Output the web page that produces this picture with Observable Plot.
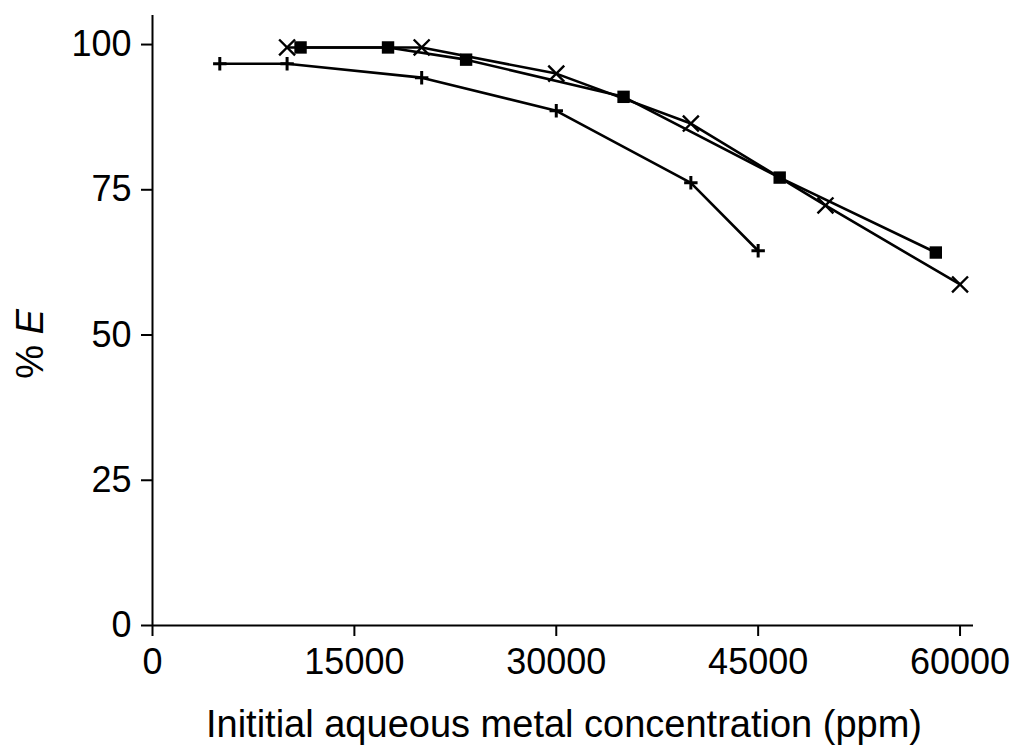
<!DOCTYPE html>
<html>
<head>
<meta charset="utf-8">
<script src="https://cdn.jsdelivr.net/npm/d3@7"></script>
<script src="https://cdn.jsdelivr.net/npm/@observablehq/plot@0.6"></script>
<style>
  html, body { margin: 0; padding: 0; background: #fff; }
</style>
</head>
<body>
<div id="chart"></div>
<script>
// Series: plus markers
const plusX = [5000, 10000, 20000, 30000, 40000, 45000];
const plusY = [96.7, 96.7, 94.3, 88.6, 76.2, 64.5];
// Series: filled squares
const squareX = [11000, 17500, 23300, 35000, 46600, 58200];
const squareY = [99.5, 99.5, 97.4, 91.0, 77.1, 64.2];
// Series: times markers
const timesX = [10000, 20000, 30000, 40000, 50000, 60000];
const timesY = [99.5, 99.5, 95.0, 86.4, 72.3, 58.7];

const xTicks = [0, 15000, 30000, 45000, 60000];
const yTicks = [0, 25, 50, 75, 100];
const xLabel = "Inititial aqueous metal concentration (ppm)";

const toRows = (xs, ys) => xs.map((x, i) => ({x, y: ys[i]}));
const plusData = toRows(plusX, plusY);
const squareData = toRows(squareX, squareY);
const timesData = toRows(timesX, timesY);

const chart = Plot.plot({
  width: 1020,
  height: 749,
  marginLeft: 152,
  marginRight: 47,
  marginTop: 15,
  marginBottom: 124,
  style: {fontFamily: "'Liberation Sans', Arial, sans-serif", fontSize: "36px", color: "#000", background: "#fff"},
  x: {domain: [0, 61000]},
  y: {domain: [0, 105]},
  marks: [
    Plot.axisX({ticks: xTicks, tickFormat: d => String(d), tickSize: 11, tickPadding: 12, strokeWidth: 2, fontSize: 36, label: null}),
    Plot.axisY({ticks: yTicks, tickFormat: d => String(d), tickSize: 11, tickPadding: 10, strokeWidth: 2, fontSize: 36, label: null}),
    Plot.ruleY([0], {stroke: "#000", strokeWidth: 2}),
    Plot.ruleX([0], {stroke: "#000", strokeWidth: 2}),
    Plot.line(plusData, {x: "x", y: "y", stroke: "#000", strokeWidth: 2.6}),
    Plot.line(squareData, {x: "x", y: "y", stroke: "#000", strokeWidth: 2.6}),
    Plot.line(timesData, {x: "x", y: "y", stroke: "#000", strokeWidth: 2.6}),
    Plot.dot(plusData, {x: "x", y: "y", symbol: "plus", r: 4.4, stroke: "#000", strokeWidth: 3}),
    Plot.dot(squareData, {x: "x", y: "y", symbol: "square", r: 7, fill: "#000", stroke: "none"}),
    Plot.dot(timesData, {x: "x", y: "y", symbol: "times", r: 7.3, stroke: "#000", strokeWidth: 2.4})
  ]
});

const svg = d3.select(chart);
// x-axis title
svg.append("text")
  .attr("x", 564)
  .attr("y", 737)
  .attr("text-anchor", "middle")
  .style("font-size", "38px")
  .attr("fill", "#000")
  .text(xLabel);
// y-axis title with italic E
const yt = svg.append("text")
  .attr("transform", "translate(43,344) rotate(-90)")
  .attr("text-anchor", "middle")
  .style("font-size", "38px")
  .attr("fill", "#000");
yt.append("tspan").text("% ");
yt.append("tspan").attr("font-style", "italic").text("E");

document.getElementById("chart").appendChild(chart);
</script>
</body>
</html>
